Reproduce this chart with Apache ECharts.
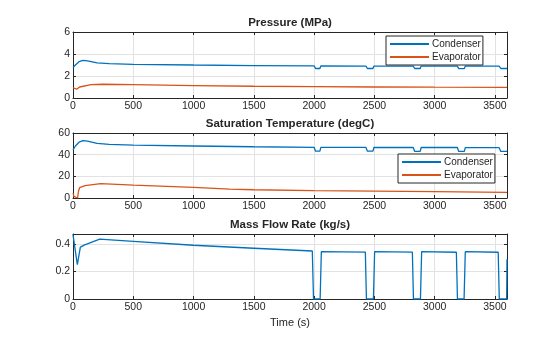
<!DOCTYPE html>
<html>
<head>
<meta charset="utf-8">
<script src="https://cdn.jsdelivr.net/npm/echarts@6/dist/echarts.min.js"></script>
<style>html,body{margin:0;padding:0;background:#fff}#c{width:560px;height:337px}</style>
</head>
<body>
<div id="c"></div>
<script>
// ---- Data ----
var xTicks = [0, 500, 1000, 1500, 2000, 2500, 3000, 3500];
var titles = ['Pressure (MPa)', 'Saturation Temperature (degC)', 'Mass Flow Rate (kg/s)'];
var seriesNames = ['Condenser', 'Evaporator'];

// Pressure - condenser
var pCondT = [0, 20, 50, 83, 120, 200, 300, 500, 1000, 1500, 2000, 2012, 2048, 2056, 2430, 2442, 2488, 2496, 2822, 2834, 2880, 2888, 3188, 3200, 3246, 3254, 3535, 3548, 3600];
var pCondV = [2.76, 3.0, 3.3, 3.42, 3.38, 3.2, 3.12, 3.06, 3.0, 2.95, 2.92, 2.68, 2.68, 2.92, 2.9, 2.68, 2.68, 2.9, 2.9, 2.68, 2.68, 2.9, 2.9, 2.67, 2.67, 2.9, 2.9, 2.68, 2.68];
// Pressure - evaporator
var pEvapT = [0, 10, 30, 45, 55, 65, 150, 250, 500, 1000, 1500, 2000, 2500, 3000, 3600];
var pEvapV = [0.93, 0.9, 0.8, 0.78, 1.0, 1.17, 1.22, 1.25, 1.21, 1.13, 1.07, 1.03, 1.0, 0.98, 0.97];

// Saturation temperature - condenser
var tCondT = [0, 20, 50, 83, 120, 200, 300, 500, 1000, 1500, 2000, 2012, 2048, 2056, 2430, 2442, 2488, 2496, 2822, 2834, 2880, 2888, 3188, 3200, 3246, 3254, 3535, 3548, 3600];
var tCondV = [44.5, 48, 51.5, 53, 52.5, 50.5, 49.5, 48.8, 48, 47.3, 46.8, 43.2, 43.2, 46.8, 46.7, 43.2, 43.2, 46.7, 46.6, 43.1, 43.1, 46.6, 46.6, 43.0, 43.0, 46.5, 46.5, 43.0, 43.0];
// Saturation temperature - evaporator
var tEvapT = [0, 8, 12, 38, 45, 55, 70, 100, 230, 500, 1000, 1300, 1500, 2000, 2500, 3000, 3600];
var tEvapV = [4.5, 1.5, 0, 0, 6, 9.5, 10.8, 11.5, 13.3, 11.9, 9.8, 8.2, 7.6, 6.8, 6.3, 5.8, 5.2];

// Mass flow rate
var mT = [0, 36, 61, 97, 222, 500, 1000, 1500, 1985, 1995, 2050, 2060, 2425, 2434, 2492, 2502, 2815, 2824, 2882, 2892, 3180, 3189, 3244, 3254, 3527, 3536, 3597, 3600];
var mV = [0.47, 0.25, 0.378, 0.395, 0.436, 0.42, 0.392, 0.37, 0.35, 0, 0, 0.346, 0.342, 0, 0, 0.346, 0.342, 0, 0, 0.345, 0.341, 0, 0, 0.345, 0.341, 0, 0, 0.29];

function zip(t, v) { return t.map(function (x, i) { return [x, v[i]]; }); }

var BLUE = '#0072BD', ORANGE = '#D95319', INK = '#262626', GRID = '#e2e2e2';
var FONT = '"Liberation Sans", Arial, Helvetica, sans-serif';
var grids = [
  {left: 73, right: 53, top: 32, height: 66},
  {left: 73, right: 53, top: 133, height: 65},
  {left: 73, right: 53, top: 234, height: 65}
];
var yCfg = [
  {min: 0, max: 6, interval: 2},
  {min: 0, max: 60, interval: 20},
  {min: 0, max: 0.474, interval: 0.2}
];

var xAxes = [], yAxes = [];
grids.forEach(function (g, i) {
  xAxes.push({
    type: 'value', gridIndex: i, min: 0, max: 3600, interval: 500, position: 'bottom',
    axisLine: {show: true, onZero: false, lineStyle: {color: INK, width: 1}},
    axisTick: {show: true, inside: true, length: 3, lineStyle: {color: INK}},
    axisLabel: {show: true, color: INK, fontSize: 10.5, fontFamily: FONT, margin: 3,
      formatter: function (v) { return xTicks.indexOf(v) >= 0 ? String(v) : ''; }},
    splitLine: {show: true, lineStyle: {color: GRID, width: 1}},
    name: i === 2 ? 'Time (s)' : '', nameLocation: 'middle', nameGap: 18,
    nameTextStyle: {color: INK, fontSize: 11, fontFamily: FONT}
  });
  xAxes.push({
    type: 'value', gridIndex: i, min: 0, max: 3600, interval: 500, position: 'top',
    axisLine: {show: true, onZero: false, lineStyle: {color: INK, width: 1}},
    axisTick: {show: true, inside: true, length: 3, lineStyle: {color: INK}},
    axisLabel: {show: false}, splitLine: {show: false}
  });
  yAxes.push({
    type: 'value', gridIndex: i, min: yCfg[i].min, max: yCfg[i].max, interval: yCfg[i].interval, position: 'left',
    axisLine: {show: true, onZero: false, lineStyle: {color: INK, width: 1}},
    axisTick: {show: true, inside: true, length: 3, lineStyle: {color: INK}},
    axisLabel: {show: true, color: INK, fontSize: 10.5, fontFamily: FONT, margin: 3,
      formatter: function (v) { return (v > yCfg[i].max - 1e-9 && i === 2) ? '' : String(Math.round(v * 10) / 10); }},
    splitLine: {show: true, lineStyle: {color: GRID, width: 1}}
  });
  yAxes.push({
    type: 'value', gridIndex: i, min: yCfg[i].min, max: yCfg[i].max, interval: yCfg[i].interval, position: 'right',
    axisLine: {show: true, onZero: false, lineStyle: {color: INK, width: 1}},
    axisTick: {show: true, inside: true, length: 3, lineStyle: {color: INK}},
    axisLabel: {show: false}, splitLine: {show: false}
  });
});

function line(name, data, color, gi) {
  return {
    type: 'line', name: name, data: data, xAxisIndex: gi * 2, yAxisIndex: gi * 2,
    showSymbol: false, symbol: 'none', lineStyle: {color: color, width: 1.3}, itemStyle: {color: color},
    animation: false, silent: true, clip: true
  };
}

var legendBase = {
  orient: 'vertical', icon: 'rect', itemWidth: 39, itemHeight: 2, itemGap: 3,
  padding: [3, 2, 3, 4], borderColor: INK, borderWidth: 1, backgroundColor: '#fff',
  textStyle: {color: INK, fontSize: 10, fontFamily: FONT, padding: [0, 0, 0, -2]},
  data: seriesNames, selectedMode: false
};

var option = {
  animation: false,
  title: titles.map(function (t, i) {
    return {text: t, left: 290, textAlign: 'center', top: [17, 118, 219][i],
      textStyle: {color: INK, fontSize: 11.5, fontWeight: 'bold', fontFamily: FONT}, padding: 0};
  }),
  grid: grids,
  xAxis: xAxes,
  yAxis: yAxes,
  legend: [
    Object.assign({}, legendBase, {left: 386, top: 36}),
    Object.assign({}, legendBase, {left: 398, top: 154})
  ],
  series: [
    line('Condenser', zip(pCondT, pCondV), BLUE, 0),
    line('Evaporator', zip(pEvapT, pEvapV), ORANGE, 0),
    line('Condenser', zip(tCondT, tCondV), BLUE, 1),
    line('Evaporator', zip(tEvapT, tEvapV), ORANGE, 1),
    line('Mass Flow', zip(mT, mV), BLUE, 2)
  ]
};
var chart = echarts.init(document.getElementById('c'), null, {renderer: 'canvas'});
chart.setOption(option);
</script>
</body>
</html>
